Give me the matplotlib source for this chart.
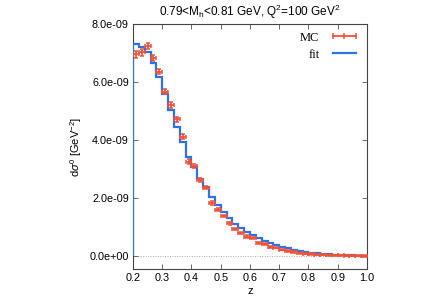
import matplotlib
matplotlib.use("Agg")
import matplotlib.pyplot as plt
import numpy as np

plt.rcParams['font.family'] = ['Liberation Sans', 'DejaVu Sans']
plt.rcParams['mathtext.fontset'] = 'custom'
plt.rcParams['mathtext.rm'] = 'Liberation Sans'
plt.rcParams['mathtext.it'] = 'Liberation Sans:italic'

# bin edges in z (40 bins of 0.02)
z_edges = np.round(np.arange(0.20, 1.0001, 0.02), 2)
z_mid = 0.5 * (z_edges[:-1] + z_edges[1:])

# fit histogram (units of 1e-9 GeV^-2)
fit = [7.30, 7.22, 7.04, 6.64, 6.16, 5.57, 5.03, 4.46, 3.94, 3.43,
       3.08, 2.65, 2.38, 2.05, 1.75, 1.50, 1.30, 1.12, 0.96, 0.83,
       0.71, 0.61, 0.52, 0.44, 0.37, 0.31, 0.26, 0.22, 0.18, 0.15,
       0.12, 0.10, 0.08, 0.06, 0.05, 0.04, 0.03, 0.02, 0.01, 0.005]

# MC points (units of 1e-9 GeV^-2)
mc = [6.95, 7.02, 7.25, 6.82, 6.36, 5.67, 5.21, 4.72, 4.11, 3.25,
      3.10, 2.62, 2.36, 1.82, 1.59, 1.38, 1.13, 0.92, 0.80, 0.67,
      0.61, 0.44, 0.41, 0.32, 0.29, 0.21, 0.17, 0.14, 0.10, 0.08,
      0.07, 0.05, 0.04, 0.03, 0.02, 0.02, 0.01, 0.01, 0.005, 0.002]
mc_err = [0.11, 0.11, 0.11, 0.10, 0.10, 0.10, 0.09, 0.09, 0.08, 0.08,
          0.07, 0.07, 0.06, 0.06, 0.05, 0.05, 0.05, 0.04, 0.04, 0.04,
          0.03, 0.03, 0.03, 0.03, 0.02, 0.02, 0.02, 0.02, 0.02, 0.02,
          0.02, 0.02, 0.02, 0.02, 0.02, 0.02, 0.02, 0.02, 0.02, 0.02]

x_ticks = [0.2, 0.3, 0.4, 0.5, 0.6, 0.7, 0.8, 0.9, 1.0]
y_ticks = [0.0, 2.0e-9, 4.0e-9, 6.0e-9, 8.0e-9]
y_ticklabels = ["0.0e+00", "2.0e-09", "4.0e-09", "6.0e-09", "8.0e-09"]

red = '#f0533a'
blue = '#2f72e6'

fig = plt.figure(figsize=(4.47, 3.04), dpi=100)
ax = fig.add_axes([0.2975, 0.115, 0.5235, 0.806])

ax.axhline(0, color='#aaaaaa', lw=0.7, ls=(0, (1, 1.5)), zorder=1)

fit_v = np.array(fit) * 1e-9
ax.stairs(fit_v, z_edges, baseline=0, color=blue, lw=1.6, zorder=3)
fit_h, = ax.plot([], [], color=blue, lw=1.6)

mc_v = np.array(mc) * 1e-9
err_v = np.array(mc_err) * 1e-9
ax.errorbar(z_mid, mc_v, yerr=err_v, xerr=0.01, fmt='none',
            ecolor=red, elinewidth=1.3, capsize=1.5, capthick=1.1, zorder=4)
# legend sample: horizontal bar with ticks at the ends and middle
mc_h, = ax.plot([], [], color=red, lw=1.3, marker='|', ms=4, mew=1.1)

ax.set_xlim(0.2, 1.0)
ax.set_ylim(-0.45e-9, 8.0e-9)
ax.set_xticks(x_ticks)
ax.set_xticklabels(["%.1f" % v for v in x_ticks])
ax.set_yticks(y_ticks)
ax.set_yticklabels(y_ticklabels)

for s in ax.spines.values():
    s.set_color('#444444')
    s.set_linewidth(0.8)
ax.tick_params(direction='in', top=True, right=True, length=3.5, width=0.6,
               color='#555555', labelsize=7.8, pad=3)

ax.set_xlabel("z", fontsize=8, labelpad=2)
ax.set_ylabel(r"d$\sigma^0$ [GeV$^{-2}$]", fontsize=8, labelpad=4)
ax.set_title(r"0.79<M$_\mathrm{h}$<0.81 GeV, Q$^2$=100 GeV$^2$", fontsize=8.5, pad=6)

leg = ax.legend([mc_h, fit_h], ["MC", "fit"], loc='upper right', frameon=False,
                markerfirst=False, numpoints=3,
                prop={'family': 'Liberation Serif', 'size': 9},
                handlelength=2.4, borderaxespad=0.2, labelspacing=0.4)

fig.savefig("out.png", dpi=100)
